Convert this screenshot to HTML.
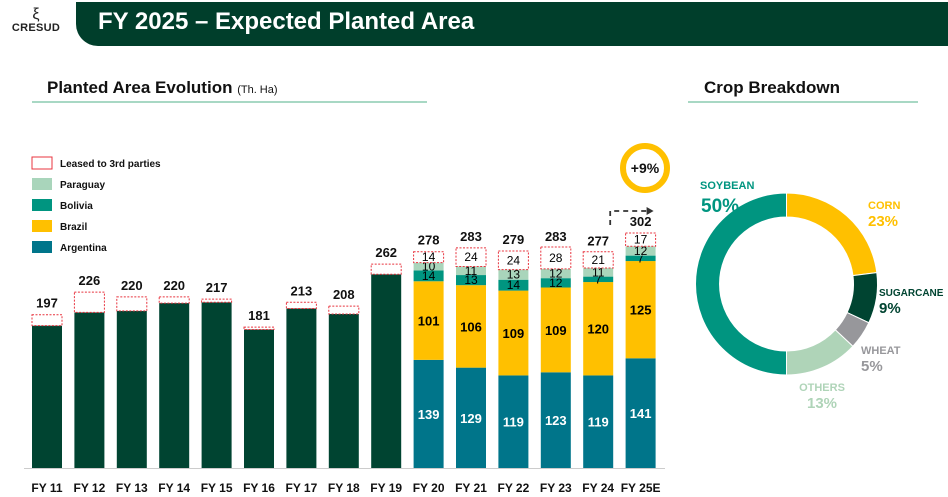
<!DOCTYPE html>
<html><head><meta charset="utf-8"><style>
body{margin:0;width:948px;height:497px;background:#fff;font-family:"Liberation Sans",sans-serif;overflow:hidden;position:relative}
.abs{position:absolute}
</style></head><body>
<div class="abs" style="left:4px;top:8px;width:64px;text-align:center">
 <div style="font-size:16px;line-height:14px;color:#222">&#958;</div>
 <div style="font-size:11px;font-weight:bold;color:#222;letter-spacing:0.3px">CRESUD</div>
</div>
<div class="abs" style="left:76px;top:2px;width:872px;height:44px;background:#003e2b;border-bottom-left-radius:22px"></div>
<div class="abs" style="left:98px;top:8px;font-size:24px;font-weight:bold;color:#fff">FY 2025 – Expected Planted Area</div>
<div class="abs" style="left:47px;top:78px;font-size:17px;font-weight:bold;color:#111">Planted Area Evolution <span style="font-size:11px;font-weight:normal">(Th. Ha)</span></div>
<div class="abs" style="left:32px;top:101px;width:395px;height:2px;background:#a8d8c4"></div>
<div class="abs" style="left:704px;top:78px;font-size:17px;font-weight:bold;color:#111">Crop Breakdown</div>
<div class="abs" style="left:688px;top:101px;width:230px;height:2px;background:#a8d8c4"></div>
<svg id="chart" class="abs" style="left:0;top:0" width="948" height="497"></svg>
<script>
const categories=["FY 11","FY 12","FY 13","FY 14","FY 15","FY 16","FY 17","FY 18","FY 19","FY 20","FY 21","FY 22","FY 23","FY 24","FY 25E"];
const totals=[197,226,220,220,217,181,213,208,262,278,283,279,283,277,302];
const argentina=[null,null,null,null,null,null,null,null,null,139,129,119,123,119,141];
const brazil=[null,null,null,null,null,null,null,null,null,101,106,109,109,120,125];
const bolivia=[null,null,null,null,null,null,null,null,null,14,13,14,12,7,7];
const paraguay=[null,null,null,null,null,null,null,null,null,10,11,13,12,11,12];
const leased=[14,26,18,8,4,3,8,10,13,14,24,24,28,21,17];
const cropNames=["CORN","SUGARCANE","WHEAT","OTHERS","SOYBEAN"];
const cropShares=[23,9,5,13,50];
const NS="http://www.w3.org/2000/svg";
const svg=document.getElementById('chart');
const base=468,k=0.778,x0=47,step=42.4,bw=30;
const y=v=>base-v*k;
const xc=i=>x0+i*step;
function mk(t,a){const e=document.createElementNS(NS,t);for(const n in a)e.setAttribute(n,a[n]);svg.appendChild(e);return e;}
function txt(s,x,yy,size,col,w,anchor){const e=mk('text',{x:x,y:yy,'font-size':size,fill:col,'font-weight':w||'normal','text-anchor':anchor||'middle','font-family':'Liberation Sans, sans-serif'});e.textContent=s;return e;}
const cols={arg:'#00758a',bra:'#ffc000',bol:'#009580',par:'#a9d5bb',dark:'#004431'};
categories.forEach((c,i)=>{
  const cx=xc(i),l=cx-bw/2;
  if(argentina[i]==null){
    const own=totals[i]-leased[i];
    const r=mk('rect',{x:l,y:y(own),width:bw,height:own*k,fill:cols.dark});
    
    
    const lr=mk('rect',{x:l,y:y(totals[i]),width:bw,height:leased[i]*k,fill:'#fff',stroke:'#e8343f','stroke-dasharray':'2,1.5','stroke-width':1});
    
    
  } else {
    let acc=0;
    const segs=[[argentina[i],cols.arg,'#fff','argentina'],[brazil[i],cols.bra,'#000','brazil'],[bolivia[i],cols.bol,'#000','bolivia'],[paraguay[i],cols.par,'#000','paraguay'],[leased[i],'#fff','#000','leased']];
    segs.forEach(s=>{
      const top=y(acc+s[0]);
      const r=mk('rect',{x:l,y:top,width:bw,height:s[0]*k,fill:s[1]});
      if(s[3]=='leased'){r.setAttribute('stroke','#e8343f');r.setAttribute('stroke-dasharray','2,1.5');}
      
      
      const big=s[0]>50;
      txt(String(s[0]),cx,top+s[0]*k/2+(big?5:4),big?13:12,s[2],big?'bold':'normal');
      acc+=s[0];
    });
  }
  const tl=txt(String(totals[i]),cx,y(totals[i])-7,13,'#111','bold');
  
  
  const cl=txt(c,cx,492,12,'#111','bold');
  
  
});
mk('line',{x1:24,x2:665,y1:468.5,y2:468.5,stroke:'#ccc','stroke-width':1});
mk('path',{d:`M${xc(13)+12} 225 V211 H${xc(14)+8}`,fill:'none',stroke:'#333','stroke-width':1.8,'stroke-dasharray':'5,4'});
mk('path',{d:`M${xc(14)+6} 207 L${xc(14)+13} 211 L${xc(14)+6} 215Z`,fill:'#333'});
const bc=mk('circle',{cx:645,cy:168,r:22,fill:'#fff',stroke:'#ffc000','stroke-width':6});


txt('+9%',645,173,14,'#111','bold');
const leg=[['Leased to 3rd parties','#fff','#e8343f'],['Paraguay',cols.par,null],['Bolivia',cols.bol,null],['Brazil',cols.bra,null],['Argentina',cols.arg,null]];
leg.forEach((L,j)=>{
  const yy=157+j*21;
  const r=mk('rect',{x:32,y:yy,width:20,height:12,fill:L[1]});
  if(L[2]){r.setAttribute('stroke',L[2]);}
  
  
  const t=txt(L[0],60,yy+10,10,'#111','bold','start');
  
  
});
const dcx=786.5,dcy=284,R=91,r0=67;
const dcols=['#ffc000','#004431','#97979b','#afd4b8','#009580'];
let a=0;
cropShares.forEach((s,j)=>{
  const a1=a,a2=a+s/100*2*Math.PI;a=a2;
  const p=(ang,rr)=>[dcx+rr*Math.sin(ang),dcy-rr*Math.cos(ang)];
  const [x1,y1]=p(a1,R),[x2,y2]=p(a2,R),[x3,y3]=p(a2,r0),[x4,y4]=p(a1,r0);
  const lg=(a2-a1)>Math.PI?1:0;
  const e=mk('path',{d:`M${x1} ${y1}A${R} ${R} 0 ${lg} 1 ${x2} ${y2}L${x3} ${y3}A${r0} ${r0} 0 ${lg} 0 ${x4} ${y4}Z`,fill:dcols[j],stroke:'#fff','stroke-width':1});
  
  
});
const dl=[[868,209,'#ffc000','start'],[879,296,'#004431','start'],[861,354,'#97979b','start'],[822,391,'#afd4b8','middle'],[700,189,'#009580','start']];
cropNames.forEach((n,j)=>{
  const d=dl[j];
  const t1=txt(n,d[0],d[1],j==1?10:11,d[2],'bold',d[3]);
  
  
  const big=j==4;
  txt(cropShares[j]+'%',big?d[0]+1:d[0],d[1]+(big?23:17),big?19:15,d[2],'bold',d[3]);
});
</script>
</body></html>
